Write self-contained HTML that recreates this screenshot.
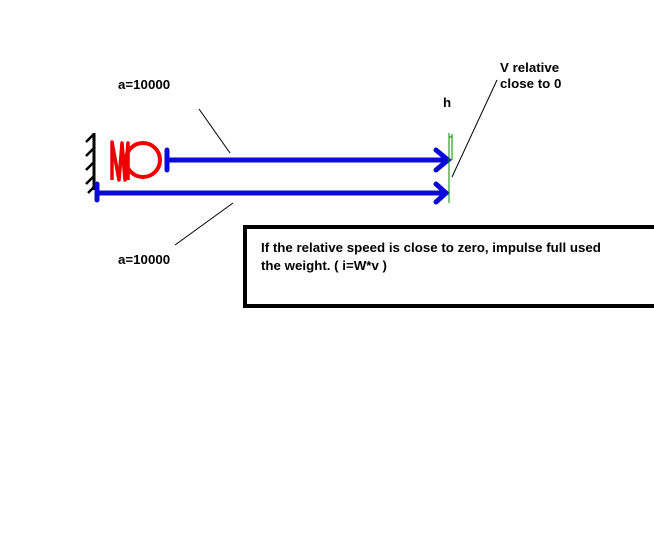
<!DOCTYPE html>
<html><head><style>body{margin:0;background:#fff}svg{display:block}</style></head><body>
<svg width="654" height="559" xmlns="http://www.w3.org/2000/svg" font-family="Liberation Sans, Arial, sans-serif" font-weight="bold" font-size="13.3">
<rect width="654" height="559" fill="#fff"/>
<!-- wall -->
<path d="M94 133 L94 190" stroke="#000" stroke-width="3"/>
<g stroke="#000" stroke-width="2.5" fill="none">
<path d="M94 134 L86 142"/><path d="M94 148 L86 156"/><path d="M94 162 L86 170"/><path d="M94 176 L86 184"/><path d="M94 187 L88 193"/>
</g>
<!-- spring -->
<path d="M112 180 L112 142 L119 180 L122 143 L125 180 L128 143 L128 180" stroke="#e00" stroke-width="3.5" fill="none" stroke-linejoin="round"/>
<circle cx="143" cy="160" r="17" stroke="#e00" stroke-width="4" fill="none"/>
<!-- arrows -->
<g stroke="#0a0ad8" stroke-width="5" fill="none" stroke-linecap="round">
<path d="M167 150 L167 170"/>
<path d="M167 160 L448 160"/>
<path d="M436 150 L448 160 L436 170"/>
<path d="M97 184 L97 200"/>
<path d="M97 193 L446 193"/>
<path d="M436 184 L446 193 L436 202"/>
</g>
<!-- green plate -->
<path d="M449 133 L449 203" stroke="#080" stroke-width="1"/>
<path d="M452 134 L452 160" stroke="#080" stroke-width="1"/>
<path d="M449 137 L452 137" stroke="#080" stroke-width="1"/>
<!-- leaders -->
<path d="M199 109 L230 153" stroke="#000" stroke-width="1"/>
<path d="M233 203 L175 245" stroke="#000" stroke-width="1"/>
<path d="M497 80 L452 177" stroke="#000" stroke-width="1"/>
<text x="118" y="89">a=10000</text>
<text x="118" y="264">a=10000</text>
<text x="443" y="107">h</text>
<text x="500" y="72">V relative</text>
<text x="500" y="88">close to 0</text>
<!-- box -->
<path d="M660 227 L245 227 L245 306 L660 306" stroke="#000" stroke-width="4" fill="none"/>
<text x="261" y="252">If the relative speed is close to zero, impulse full used</text>
<text x="261" y="270">the weight.  ( i=W*v )</text>
</svg>
</body></html>
